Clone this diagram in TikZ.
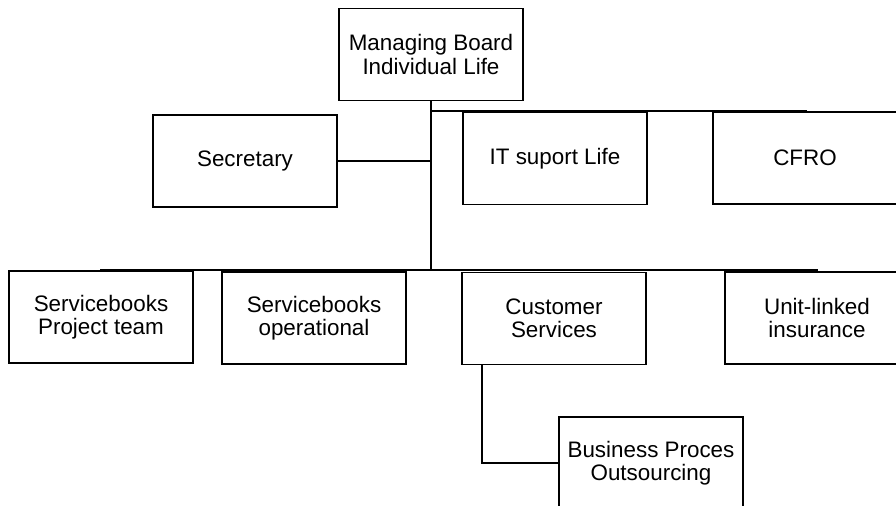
\documentclass[tikz,border=0pt]{standalone}
\usepackage{fontspec}
\setmainfont{Liberation Sans}

\begin{document}
\begin{tikzpicture}
  [x=0.5pt,y=-0.5pt,
   every node/.style={draw,line width=0.8pt,minimum width=92pt,minimum height=46pt,
     inner sep=0pt,align=center,font=\fontsize{11.2}{11.6}\selectfont},
   bar/.style={line width=1.2pt},
   link/.style={line width=0.8pt}]
  \useasboundingbox (0,0) rectangle (896,506);
  \node (board) at (431,54.5) {Managing Board\\Individual Life};
  \node (sec) at (245,161) {Secretary};
  \node (it) at (555,158.5) {IT suport Life};
  \node (cfro) at (805,158) {CFRO};
  \node (sbp) at (101,317) {Servicebooks\\Project team};
  \node (sbo) at (314,318) {Servicebooks\\operational};
  \node (cs) at (554,318.5) {Customer\\Services};
  \node (ul) at (817,318) {Unit-linked\\insurance};
  \node (bpo) at (651,463) {Business Proces\\Outsourcing};
  \coordinate (top) at (807,111);
  \coordinate (low) at (100,270);
  \coordinate (lowend) at (818,270);
  \draw[bar] (board.south) -- (board.south |- low);
  \draw[bar] (board.south |- top) -- (top);
  \draw[bar] (low) -- (lowend);
  \draw[link] (sec.east) -- (sec.east -| board.south);
  \draw[link] ([xshift=-36pt]cs.south) |- (bpo.west);
\end{tikzpicture}
\end{document}
